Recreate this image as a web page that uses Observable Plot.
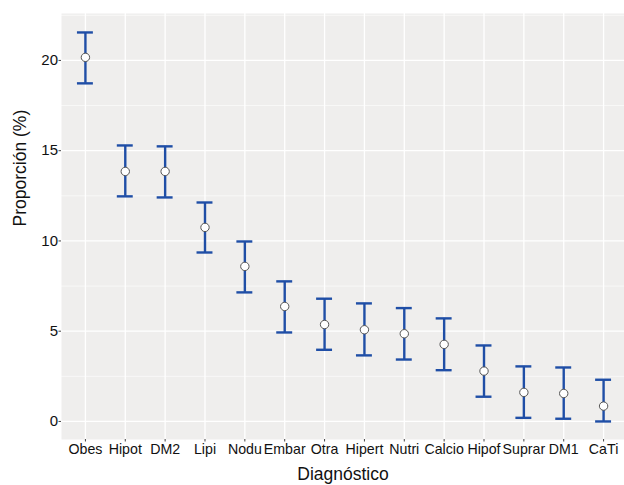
<!DOCTYPE html>
<html>
<head>
<meta charset="utf-8">
<script src="https://cdn.jsdelivr.net/npm/d3@7"></script>
<script src="https://cdn.jsdelivr.net/npm/@observablehq/plot@0.6"></script>
<style>
  html, body { margin: 0; padding: 0; background: #fff; }
  svg { display: block; }
</style>
</head>
<body>
<div id="chart"></div>
<script>
const categories = ["Obes","Hipot","DM2","Lipi","Nodu","Embar","Otra","Hipert","Nutri","Calcio","Hipof","Suprar","DM1","CaTi"];
const proportion = [20.17, 13.85, 13.85, 10.75, 8.59, 6.37, 5.37, 5.08, 4.86, 4.27, 2.79, 1.61, 1.55, 0.85];
const lower = [18.73, 12.47, 12.41, 9.36, 7.15, 4.93, 3.97, 3.66, 3.43, 2.84, 1.37, 0.20, 0.15, 0.00];
const upper = [21.55, 15.29, 15.24, 12.13, 9.97, 7.76, 6.80, 6.54, 6.28, 5.71, 4.21, 3.05, 2.99, 2.31];
const yTicks = [0, 5, 10, 15, 20];
const yMinor = [2.5, 7.5, 12.5, 17.5, 22.5];

const data = categories.map((c, i) => ({cat: c, p: proportion[i], lo: lower[i], hi: upper[i]}));

const blue = "#1f4ea6";
const chart = Plot.plot({
  width: 624,
  height: 485,
  marginLeft: 61,
  marginRight: 0,
  marginTop: 13,
  marginBottom: 46,
  style: {fontFamily: "Liberation Sans, Arial, sans-serif", background: "#fff"},
  x: {type: "band", domain: categories, range: [61, 627], paddingInner: 0.6, paddingOuter: 0.4, round: false, label: null},
  y: {domain: [-1.0, 22.6], label: null},
  marks: [
    Plot.frame({fill: "#efeeed", stroke: null}),
    Plot.ruleY(yMinor, {stroke: "#fff", strokeWidth: 0.6}),
    Plot.ruleY(yTicks, {stroke: "#fff", strokeWidth: 1.3}),
    Plot.ruleX(categories, {x: d => d, stroke: "#fff", strokeWidth: 1.3}),
    Plot.axisY({ticks: yTicks, tickSize: 2.5, tickPadding: 1, fontSize: 15, fill: "#111", stroke: "#444", label: null}),
    Plot.axisX({tickSize: 2.5, tickPadding: 1.5, fontSize: 14.2, fill: "#111", stroke: "#444", label: null}),
    Plot.ruleX(data, {x: "cat", y1: "lo", y2: "hi", stroke: blue, strokeWidth: 2.4}),
    Plot.tickY(data, {x: "cat", y: "lo", stroke: blue, strokeWidth: 2.4}),
    Plot.tickY(data, {x: "cat", y: "hi", stroke: blue, strokeWidth: 2.4}),
    Plot.dot(data, {x: "cat", y: "p", r: 4.2, fill: "#fff", stroke: "#555", strokeWidth: 1}),
    Plot.text(["Proporción (%)"], {frameAnchor: "left", dx: -41, rotate: -90, fontSize: 17.5, fill: "#111"}),
    Plot.text(["Diagnóstico"], {frameAnchor: "bottom", dy: 40, fontSize: 17.5, fill: "#111"})
  ]
});
document.getElementById("chart").appendChild(chart);
</script>
</body>
</html>
